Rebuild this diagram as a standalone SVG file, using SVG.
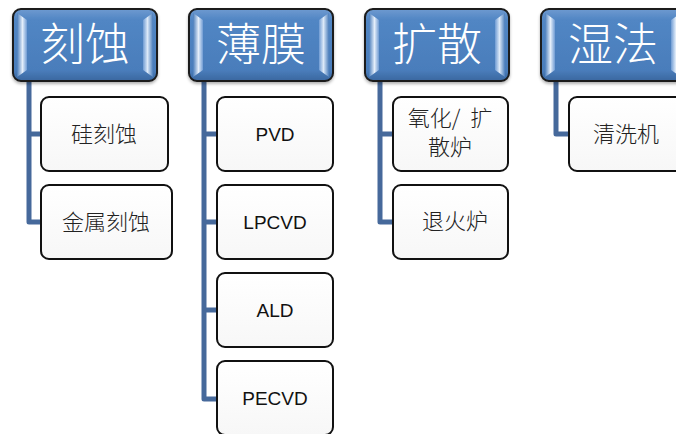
<svg xmlns="http://www.w3.org/2000/svg" width="676" height="434" viewBox="0 0 676 434">
<defs>
<linearGradient id="hdrFill" x1="0" y1="0" x2="0" y2="1">
<stop offset="0" stop-color="#6f9ad0"/>
<stop offset="0.15" stop-color="#5186c4"/>
<stop offset="0.85" stop-color="#4a7dbb"/>
<stop offset="1" stop-color="#3a679f"/>
</linearGradient>
<linearGradient id="bevL" x1="0" y1="0" x2="1" y2="0">
<stop offset="0" stop-color="#4a7dbb"/>
<stop offset="0.55" stop-color="#e4eefa"/>
<stop offset="1" stop-color="#6f9bd3"/>
</linearGradient>
<linearGradient id="bevR" x1="1" y1="0" x2="0" y2="0">
<stop offset="0" stop-color="#4a7dbb"/>
<stop offset="0.55" stop-color="#dce9f8"/>
<stop offset="1" stop-color="#6f9bd3"/>
</linearGradient>
<linearGradient id="boxFill" x1="0" y1="0" x2="0" y2="1">
<stop offset="0" stop-color="#ffffff"/>
<stop offset="1" stop-color="#f7f7f7"/>
</linearGradient>
<filter id="sh" x="-10%" y="-10%" width="120%" height="130%">
<feDropShadow dx="0" dy="2" stdDeviation="1.5" flood-color="#000" flood-opacity="0.3"/>
</filter>
</defs>
<style>
.hdr{fill:url(#hdrFill);stroke:#1a1a1a;stroke-width:2}
.bl{fill:url(#bevL)}
.br{fill:url(#bevR)}
.box{fill:url(#boxFill);stroke:#111;stroke-width:2}
.ht{font-family:"Noto Sans CJK SC","Noto Sans CJK JP",sans-serif;font-size:45px;font-weight:300;fill:#fff;text-anchor:middle}
.ct{font-family:"Noto Sans CJK SC","Noto Sans CJK JP",sans-serif;font-size:22px;font-weight:300;fill:#222;text-anchor:middle}
.lt{font-family:"Liberation Sans",Arial,sans-serif;font-size:19px;fill:#111;text-anchor:middle}
.con{fill:none;stroke:#46699b;stroke-width:5;stroke-linejoin:round}
</style>

<g id="connectors">
<path class="con" d="M29 82 V222 H41 M29 134 H41"/>
<path class="con" d="M204 82 V399 H217 M204 134 H217 M204 222 H217 M204 310 H217"/>
<path class="con" d="M380 82 V222 H393 M380 134 H393"/>
<path class="con" d="M556 82 V134 H569"/>
</g>

<g id="h-etch">
<rect class="hdr" x="13" y="9" width="144" height="72" rx="8" filter="url(#sh)"/>
<polygon class="bl" points="17,13 27,20 27,70 17,77"/>
<polygon class="br" points="153,13 143,20 143,70 153,77"/>
<text class="ht" x="85" y="61">刻蚀</text>
</g>
<g id="h-film">
<rect class="hdr" x="189" y="9" width="144" height="72" rx="8" filter="url(#sh)"/>
<polygon class="bl" points="193,13 203,20 203,70 193,77"/>
<polygon class="br" points="329,13 319,20 319,70 329,77"/>
<text class="ht" x="261" y="61">薄膜</text>
</g>
<g id="h-diff">
<rect class="hdr" x="365" y="9" width="144" height="72" rx="8" filter="url(#sh)"/>
<polygon class="bl" points="369,13 379,20 379,70 369,77"/>
<polygon class="br" points="505,13 495,20 495,70 505,77"/>
<text class="ht" x="437" y="61">扩散</text>
</g>
<g id="h-wet">
<rect class="hdr" x="541" y="9" width="144" height="72" rx="8" filter="url(#sh)"/>
<polygon class="bl" points="545,13 555,20 555,70 545,77"/>
<polygon class="br" points="681,13 671,20 671,70 681,77"/>
<text class="ht" x="613" y="61">湿法</text>
</g>

<g id="n-si-etch">
<rect class="box" x="41" y="97" width="127" height="74" rx="8"/>
<text class="ct" x="104" y="142">硅刻蚀</text>
</g>
<g id="n-metal-etch">
<rect class="box" x="41" y="185" width="131" height="74" rx="8"/>
<text class="ct" x="106" y="230">金属刻蚀</text>
</g>

<g id="n-pvd">
<rect class="box" x="217" y="97" width="116" height="74" rx="8"/>
<text class="lt" x="275" y="141">PVD</text>
</g>
<g id="n-lpcvd">
<rect class="box" x="217" y="185" width="116" height="74" rx="8"/>
<text class="lt" x="275" y="229">LPCVD</text>
</g>
<g id="n-ald">
<rect class="box" x="217" y="273" width="116" height="74" rx="8"/>
<text class="lt" x="275" y="317">ALD</text>
</g>
<g id="n-pecvd">
<rect class="box" x="217" y="361" width="116" height="74" rx="8"/>
<text class="lt" x="275" y="405">PECVD</text>
</g>

<g id="n-oxid">
<rect class="box" x="393" y="97" width="115" height="74" rx="8"/>
<text class="ct" x="450" y="126" xml:space="preserve" style="white-space:pre">氧化/  扩</text>
<text class="ct" x="450" y="155">散炉</text>
</g>
<g id="n-anneal">
<rect class="box" x="393" y="185" width="115" height="74" rx="8"/>
<text class="ct" x="455" y="229">退火炉</text>
</g>

<g id="n-clean">
<rect class="box" x="569" y="97" width="116" height="74" rx="8"/>
<text class="ct" x="626" y="142">清洗机</text>
</g>
</svg>
